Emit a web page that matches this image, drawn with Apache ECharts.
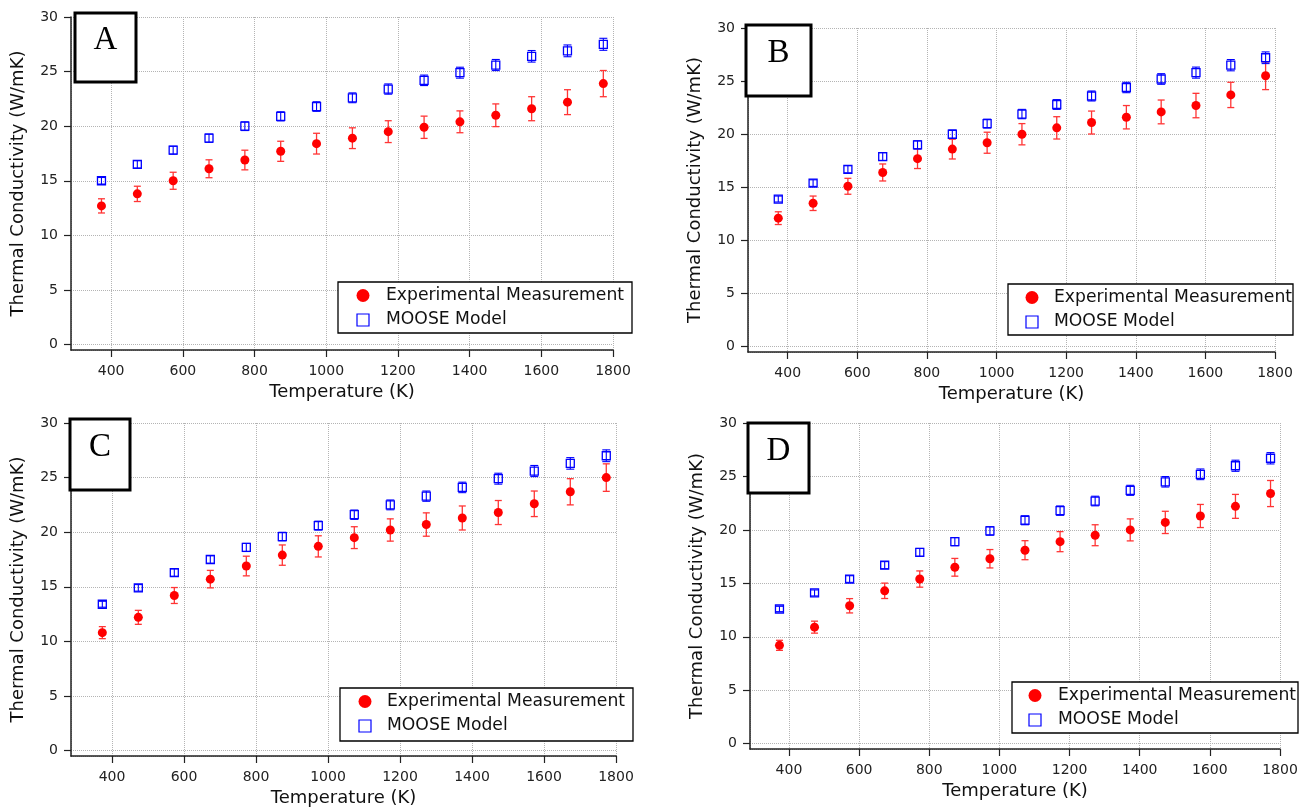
<!DOCTYPE html>
<html><head><meta charset="utf-8">
<script src="https://cdn.jsdelivr.net/npm/echarts@6/dist/echarts.min.js"></script>
<style>html,body{margin:0;padding:0;background:#fff}#c{width:1312px;height:812px}</style>
</head><body><div id="c"></div>
<script>
const temperatures = [373,473,573,673,773,873,973,1073,1173,1273,1373,1473,1573,1673,1773];

const expA    = [12.7,13.8,15.0,16.1,16.9,17.7,18.4,18.9,19.5,19.9,20.4,21.0,21.6,22.2,23.9];
const expAErr = [0.65,0.7,0.78,0.82,0.9,0.92,0.95,0.95,1.0,1.02,1.0,1.04,1.1,1.14,1.2];
const modA    = [15.0,16.5,17.8,18.9,20.0,20.9,21.8,22.6,23.4,24.2,24.9,25.6,26.4,26.9,27.5];
const modAErr = [0.3,0.33,0.36,0.38,0.4,0.42,0.44,0.45,0.47,0.48,0.5,0.51,0.53,0.54,0.55];

const expB    = [12.1,13.5,15.1,16.4,17.7,18.6,19.2,20.0,20.6,21.1,21.6,22.1,22.7,23.7,25.5];
const expBErr = [0.6,0.68,0.75,0.8,0.93,0.93,0.99,1.0,1.05,1.08,1.1,1.12,1.15,1.19,1.3];
const modB    = [13.9,15.4,16.7,17.9,19.0,20.0,21.0,21.9,22.8,23.6,24.4,25.2,25.8,26.5,27.2];
const modBErr = [0.28,0.31,0.33,0.36,0.38,0.4,0.42,0.44,0.46,0.47,0.49,0.5,0.52,0.53,0.55];

const expC    = [10.8,12.2,14.2,15.7,16.9,17.9,18.7,19.5,20.2,20.7,21.3,21.8,22.6,23.7,25.0];
const expCErr = [0.55,0.64,0.73,0.8,0.9,0.93,0.97,1.0,1.02,1.07,1.1,1.1,1.17,1.2,1.26];
const modC    = [13.4,14.9,16.3,17.5,18.6,19.6,20.6,21.6,22.5,23.3,24.1,24.9,25.6,26.3,27.0];
const modCErr = [0.27,0.3,0.33,0.35,0.37,0.39,0.41,0.43,0.45,0.47,0.48,0.5,0.51,0.53,0.54];

const expD    = [9.2,10.9,12.9,14.3,15.4,16.5,17.3,18.1,18.9,19.5,20.0,20.7,21.3,22.2,23.4];
const expDErr = [0.47,0.56,0.67,0.72,0.76,0.83,0.86,0.89,0.94,0.98,1.03,1.04,1.08,1.12,1.22];
const modD    = [12.6,14.1,15.4,16.7,17.9,18.9,19.9,20.9,21.8,22.7,23.7,24.5,25.2,26.0,26.7];
const modDErr = [0.25,0.28,0.31,0.33,0.36,0.38,0.4,0.42,0.44,0.45,0.47,0.49,0.5,0.52,0.53];

const panelLabels = ['A','B','C','D'];
const expName = 'Experimental Measurement';
const modName = 'MOOSE Model';
const xTitle = 'Temperature (K)';
const yTitle = 'Thermal Conductivity (W/mK)';

const panels = [
  {exp:expA, expErr:expAErr, mod:modA, modErr:modAErr},
  {exp:expB, expErr:expBErr, mod:modB, modErr:modBErr},
  {exp:expC, expErr:expCErr, mod:modC, modErr:modCErr},
  {exp:expD, expErr:expDErr, mod:modD, modErr:modDErr}
];

// layout (pixels)
const layout = [
  {left:71,  top:17,  width:542, height:333, xmin:288, box:[75,13,61,69],  legend:[338,282,294,51], lx:25, tx:48},
  {left:748, top:28,  width:527, height:324, xmin:286, box:[746,25,65,71], legend:[1008,284,285,51], lx:24, tx:46},
  {left:71,  top:423, width:545, height:333, xmin:286, box:[70,419,60,71], legend:[340,688,293,53], lx:25, tx:47},
  {left:750, top:423, width:530, height:326, xmin:289, box:[748,423,61,70], legend:[1012,682,286,51], lx:23, tx:46}
];

const FONT = 'DejaVu Sans';

function errRender(capW, color, lw) {
  return function (params, api) {
    const x = api.value(0), lo = api.value(1), hi = api.value(2);
    const pLo = api.coord([x, lo]), pHi = api.coord([x, hi]);
    const st = {stroke: color, lineWidth: lw};
    return {type: 'group', children: [
      {type: 'line', shape: {x1: pHi[0], y1: pHi[1], x2: pLo[0], y2: pLo[1]}, style: st},
      {type: 'line', shape: {x1: pHi[0] - capW, y1: pHi[1], x2: pHi[0] + capW, y2: pHi[1]}, style: st},
      {type: 'line', shape: {x1: pLo[0] - capW, y1: pLo[1], x2: pLo[0] + capW, y2: pLo[1]}, style: st}
    ]};
  };
}

const plain = v => String(v);
const grid = [], xAxis = [], yAxis = [], series = [], graphic = [];
layout.forEach((L, i) => {
  grid.push({left: L.left, top: L.top, width: L.width, height: L.height, containLabel: false});
  xAxis.push({
    gridIndex: i, type: 'value', min: L.xmin, max: 1800, splitNumber: 7,
    name: xTitle, nameLocation: 'middle', nameGap: 33,
    nameTextStyle: {fontFamily: FONT, fontSize: 18, color: '#111'},
    axisLine: {show: true, onZero: false, lineStyle: {color: '#222', width: 1.5}},
    axisTick: {show: true, inside: false, length: 7, lineStyle: {color: '#222', width: 1.2}},
    axisLabel: {showMinLabel: false, formatter: plain, fontFamily: FONT, fontSize: 14, color: '#222', margin: 14},
    splitLine: {show: true, lineStyle: {type: 'dotted', color: '#b4b4b4', width: 1}}
  });
  yAxis.push({
    gridIndex: i, type: 'value', min: -0.5, max: 30, splitNumber: 6,
    name: yTitle, nameLocation: 'middle', nameGap: 44,
    nameTextStyle: {fontFamily: FONT, fontSize: 18, color: '#111'},
    axisLine: {show: true, onZero: false, lineStyle: {color: '#222', width: 1.5}},
    axisTick: {show: true, inside: false, length: 7, lineStyle: {color: '#222', width: 1.2}},
    axisLabel: {showMinLabel: false, formatter: plain, fontFamily: FONT, fontSize: 14, color: '#222', margin: 13},
    splitLine: {show: true, lineStyle: {type: 'dotted', color: '#b4b4b4', width: 1}}
  });
  const P = panels[i];
  series.push({
    type: 'custom', name: expName + ' error', xAxisIndex: i, yAxisIndex: i, z: 3,
    renderItem: errRender(3.5, '#ff3535', 1.3),
    encode: {x: 0, y: [1, 2]},
    data: temperatures.map((t, k) => [t, P.exp[k] - P.expErr[k], P.exp[k] + P.expErr[k]])
  });
  series.push({
    type: 'scatter', name: expName, xAxisIndex: i, yAxisIndex: i, z: 4,
    symbol: 'circle', symbolSize: 9, itemStyle: {color: '#ff0000', opacity: 1},
    data: temperatures.map((t, k) => [t, P.exp[k]])
  });
  series.push({
    type: 'scatter', name: modName, xAxisIndex: i, yAxisIndex: i, z: 4,
    symbol: 'rect', symbolSize: 8,
    itemStyle: {color: 'rgba(255,255,255,0)', borderColor: '#0000ff', borderWidth: 1.3, opacity: 1},
    data: temperatures.map((t, k) => [t, P.mod[k]])
  });
  series.push({
    type: 'custom', name: modName + ' error', xAxisIndex: i, yAxisIndex: i, z: 5,
    renderItem: errRender(4, '#0000ff', 1.1),
    encode: {x: 0, y: [1, 2]},
    data: temperatures.map((t, k) => [t, P.mod[k] - P.modErr[k], P.mod[k] + P.modErr[k]])
  });

  // panel letter box
  const b = L.box;
  graphic.push({type: 'rect', shape: {x: b[0], y: b[1], width: b[2], height: b[3]},
    style: {fill: '#fff', stroke: '#000', lineWidth: 3}, z: 100});
  graphic.push({type: 'text', x: b[0] + b[2] / 2, y: b[1] + b[3] / 2 - 7, z: 101,
    style: {text: panelLabels[i], fontFamily: 'Liberation Serif', fontSize: 33, fill: '#000',
      textAlign: 'center', textVerticalAlign: 'middle'}});

  // legend box
  const g = L.legend;
  const cx = g[0] + L.lx, y1 = g[1] + 13.5, y2 = g[1] + 38;
  graphic.push({type: 'rect', shape: {x: g[0], y: g[1], width: g[2], height: g[3]},
    style: {fill: '#fff', stroke: '#000', lineWidth: 1.3}, z: 100});
  graphic.push({type: 'circle', shape: {cx: cx, cy: y1, r: 6.5}, style: {fill: '#ff0000'}, z: 101});
  graphic.push({type: 'rect', shape: {x: cx - 6, y: y2 - 6, width: 12, height: 12},
    style: {fill: 'none', stroke: '#0000ff', lineWidth: 1.2}, z: 101});
  graphic.push({type: 'text', x: g[0] + L.tx, y: y1, z: 101,
    style: {text: expName, fontFamily: FONT, fontSize: 17.2, fill: '#111', textVerticalAlign: 'middle'}});
  graphic.push({type: 'text', x: g[0] + L.tx, y: y2, z: 101,
    style: {text: modName, fontFamily: FONT, fontSize: 17.2, fill: '#111', textVerticalAlign: 'middle'}});
});

const chart = echarts.init(document.getElementById('c'), null, {renderer: 'canvas'});
chart.setOption({
  animation: false,
  backgroundColor: '#fff',
  grid, xAxis, yAxis, series, graphic
});
</script>
</body></html>
